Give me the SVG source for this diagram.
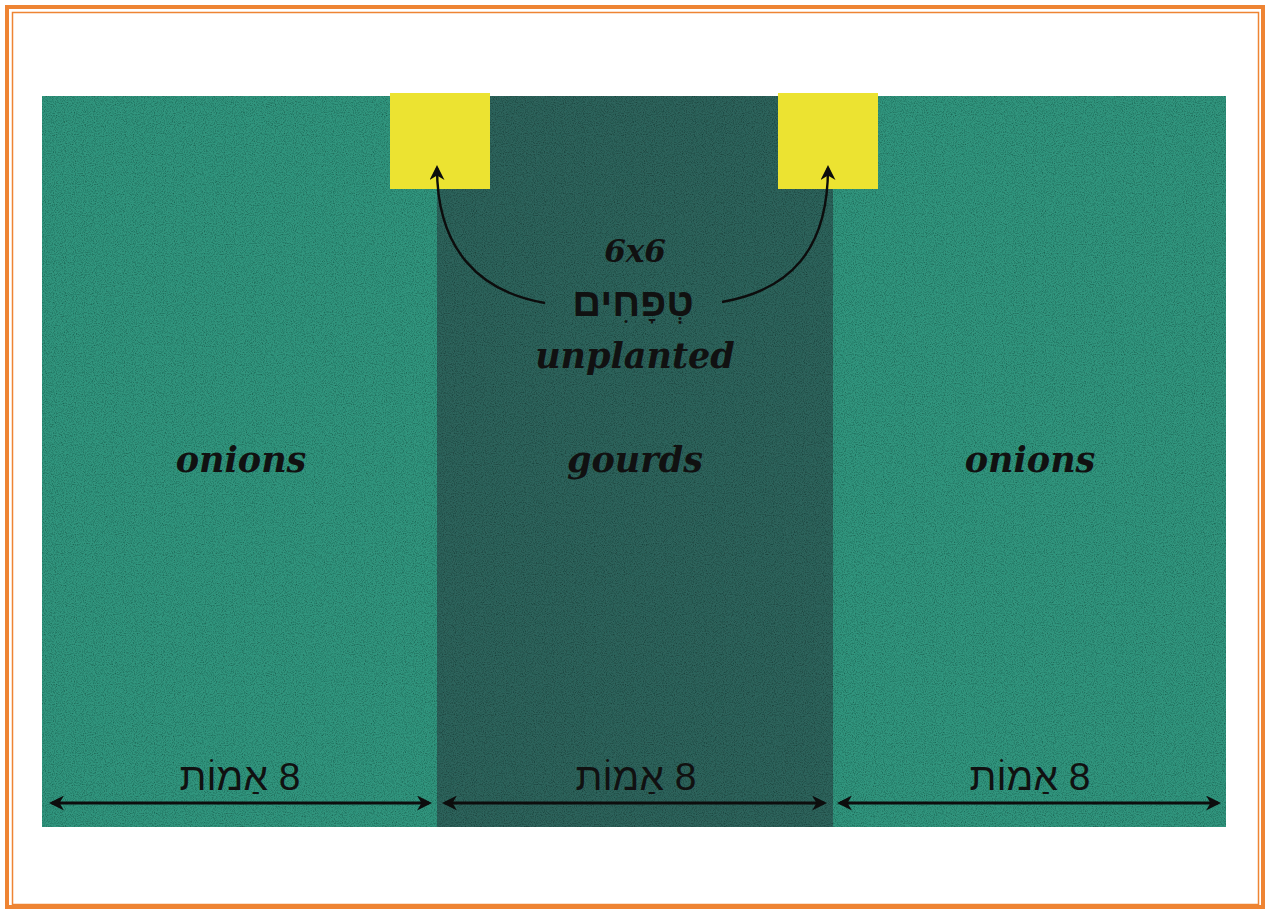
<svg xmlns="http://www.w3.org/2000/svg" width="1266" height="909" viewBox="0 0 1266 909">
<style>
.lbl{font-family:"DejaVu Serif","Liberation Serif",serif;font-weight:bold;font-style:italic;fill:#111;text-anchor:middle}
.heb{font-family:"Liberation Sans","DejaVu Sans",sans-serif;fill:#111;text-anchor:middle}
.conn{fill:none;stroke:#0d0d0d;stroke-width:2.4}
.dim{fill:none;stroke:#0d0d0d;stroke-width:3}
</style>
<defs>
<marker id="ah2" viewBox="0 0 10 10" refX="8" refY="5" markerWidth="15" markerHeight="15" orient="auto-start-reverse" markerUnits="userSpaceOnUse">
<path d="M0,0 L10,5 L0,10 L3,5 Z" fill="#0d0d0d"/>
</marker>
<filter id="grain" x="0" y="0" width="100%" height="100%">
<feTurbulence type="fractalNoise" baseFrequency="0.9" numOctaves="2" seed="3" result="n"/>
<feColorMatrix in="n" type="matrix" values="0 0 0 0 0  0 0 0 0 0  0 0 0 0 0  0 0 0 -1.2 0.7" result="a"/>
<feComposite in="a" in2="SourceGraphic" operator="in" result="d"/>
<feMerge><feMergeNode in="SourceGraphic"/><feMergeNode in="d"/></feMerge>
</filter>
</defs>
<rect x="0" y="0" width="1266" height="909" fill="#ffffff"/>
<rect x="7" y="7" width="1256" height="900" fill="none" stroke="#ee8433" stroke-width="4"/>
<rect x="12.5" y="12.5" width="1246" height="892" fill="none" stroke="#ee8433" stroke-width="1.5"/>

<g id="onions-left">
<rect x="42" y="96" width="395" height="731" fill="#33957e" filter="url(#grain)"/>
<text class="lbl" x="241" y="472" font-size="35">onions</text>
</g>
<g id="gourds">
<rect x="437" y="96" width="396" height="731" fill="#2f635b" filter="url(#grain)"/>
<text class="lbl" x="635" y="472" font-size="35">gourds</text>
</g>
<g id="onions-right">
<rect x="833" y="96" width="393" height="731" fill="#33957e" filter="url(#grain)"/>
<text class="lbl" x="1030" y="472" font-size="35">onions</text>
</g>
<g id="square-left">
<rect x="390" y="93" width="100" height="96" fill="#ece331"/>
</g>
<g id="square-right">
<rect x="778" y="93" width="100" height="96" fill="#ece331"/>
</g>
<g id="unplanted-label">
<text class="lbl" x="635" y="262" font-size="31">6x6</text>
<text class="heb" x="633" y="316" font-size="40" font-weight="bold">טְפָחִים</text>
<text class="lbl" x="635" y="368" font-size="35">unplanted</text>
</g>
<g id="width-labels">
<text class="heb" x="240" y="790" font-size="39">אַמוֹת&#x200E; 8</text>
<text class="heb" x="636" y="790" font-size="39">אַמוֹת&#x200E; 8</text>
<text class="heb" x="1030" y="790" font-size="39">אַמוֹת&#x200E; 8</text>
</g>
<g id="connectors">
<path class="conn" d="M545,303 C480,292 437,250 437,168" marker-end="url(#ah2)"/>
<path class="conn" d="M722,302 C790,290 828,250 828,168" marker-end="url(#ah2)"/>
<line class="dim" x1="52" y1="803" x2="429" y2="803" marker-start="url(#ah2)" marker-end="url(#ah2)"/>
<line class="dim" x1="445" y1="803" x2="824" y2="803" marker-start="url(#ah2)" marker-end="url(#ah2)"/>
<line class="dim" x1="840" y1="803" x2="1218" y2="803" marker-start="url(#ah2)" marker-end="url(#ah2)"/>
</g>
</svg>
